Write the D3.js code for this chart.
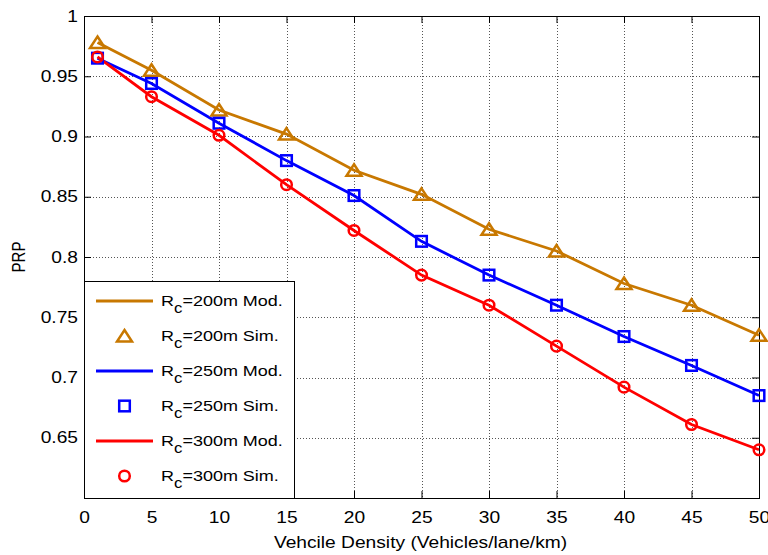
<!DOCTYPE html>
<html>
<head>
<meta charset="utf-8">
<script src="https://cdn.jsdelivr.net/npm/d3@7"></script>
<style>
  body { margin: 0; background: #fff; }
  text { font-family: "Liberation Sans", Arial, sans-serif; }
</style>
</head>
<body>
<svg width="768" height="555"></svg>
<script>
// data
const density = [1, 5, 10, 15, 20, 25, 30, 35, 40, 45, 50];
const mod200 = [0.978, 0.955, 0.922, 0.902, 0.872, 0.852, 0.823, 0.805, 0.778, 0.760, 0.735];
const sim200 = [0.978, 0.955, 0.922, 0.902, 0.872, 0.852, 0.823, 0.805, 0.778, 0.760, 0.735];
const mod250 = [0.965, 0.944, 0.911, 0.880, 0.851, 0.813, 0.785, 0.760, 0.734, 0.710, 0.685];
const sim250 = [0.965, 0.944, 0.911, 0.880, 0.851, 0.813, 0.785, 0.760, 0.734, 0.710, 0.685];
const mod300 = [0.966, 0.933, 0.901, 0.860, 0.822, 0.785, 0.760, 0.726, 0.692, 0.661, 0.640];
const sim300 = [0.966, 0.933, 0.901, 0.860, 0.822, 0.785, 0.760, 0.726, 0.692, 0.661, 0.640];
const xTicks = [0, 5, 10, 15, 20, 25, 30, 35, 40, 45, 50];
const yTicks = [0.65, 0.7, 0.75, 0.8, 0.85, 0.9, 0.95, 1];
const seriesNames = ["200m", "250m", "300m"];

const gold = "#c87800", blue = "#0000ff", red = "#ff0000";
const stretch = 1.2; // the original figure's text is a bit wide

const svg = d3.select("svg");
const pLeft = 84, pRight = 759, pTop = 16, pBottom = 498;

const x = d3.scaleLinear().domain([0, 50]).range([pLeft, pRight]);
const y = d3.scaleLinear().domain([0.6, 1]).range([pBottom, pTop]);

// grid
const grid = svg.append("g").attr("stroke", "#555").attr("stroke-width", 1)
  .attr("stroke-dasharray", "1,2");
grid.selectAll(".gx").data(xTicks.slice(1, -1)).enter().append("line")
  .attr("x1", d => Math.round(x(d)) + 0.5).attr("x2", d => Math.round(x(d)) + 0.5)
  .attr("y1", pTop).attr("y2", pBottom);
grid.selectAll(".gy").data(yTicks.slice(0, -1)).enter().append("line")
  .attr("y1", d => Math.round(y(d)) + 0.5).attr("y2", d => Math.round(y(d)) + 0.5)
  .attr("x1", pLeft).attr("x2", pRight);

// box
svg.append("rect").attr("x", pLeft + 0.5).attr("y", pTop + 0.5)
  .attr("width", pRight - pLeft).attr("height", pBottom - pTop)
  .attr("fill", "none").attr("stroke", "#000").attr("stroke-width", 1);

// ticks (inward, on all sides)
const axB = d3.axisBottom(x).tickValues(xTicks).tickSize(-7).tickPadding(14);
const axT = d3.axisTop(x).tickValues(xTicks).tickSize(-7).tickFormat("");
const axL = d3.axisLeft(y).tickValues(yTicks).tickSize(-7)
  .tickFormat(d => d3.format("")(d));
const axR = d3.axisRight(y).tickValues(yTicks).tickSize(-7).tickFormat("");

function styleAxis(g) {
  g.select(".domain").remove();
  g.selectAll("line").attr("stroke", "#000");
  g.selectAll("text").attr("font-size", 16).attr("fill", "#000")
    .attr("font-family", "Liberation Sans, Arial, sans-serif")
    .attr("transform", `scale(${stretch},1)`);
}
svg.append("g").attr("transform", `translate(0,${pBottom})`).call(axB).call(styleAxis);
svg.append("g").attr("transform", `translate(0,${pTop})`).call(axT).call(styleAxis);
svg.append("g").attr("transform", `translate(${pLeft},0)`).call(axL).call(styleAxis)
  .selectAll("text").attr("x", -6 / stretch);
svg.append("g").attr("transform", `translate(${pRight},0)`).call(axR).call(styleAxis);

// labels
svg.append("text")
  .attr("transform", `translate(${(pLeft + pRight) / 2 - 1},548) scale(${stretch},1)`)
  .attr("text-anchor", "middle").attr("font-size", 16)
  .text("Vehcile Density (Vehicles/lane/km)");
svg.append("text")
  .attr("transform", `translate(25,${(pTop + pBottom) / 2}) rotate(-90) scale(1,${stretch})`)
  .attr("text-anchor", "middle").attr("font-size", 15).text("PRP");

// series
const line = d3.line().x((d, i) => x(density[i])).y(d => y(d));
const series = [
  { mod: mod200, sim: sim200, color: gold, marker: "tri" },
  { mod: mod250, sim: sim250, color: blue, marker: "sq" },
  { mod: mod300, sim: sim300, color: red, marker: "circ" }
];

function drawMarker(g, type, cx, cy, color) {
  if (type === "tri") {
    g.append("path").attr("d", `M${cx},${cy - 6}L${cx + 7.5},${cy + 5.5}L${cx - 7.5},${cy + 5.5}Z`)
      .attr("fill", "none").attr("stroke", color).attr("stroke-width", 2.5);
  } else if (type === "sq") {
    g.append("rect").attr("x", cx - 5.3).attr("y", cy - 5.3).attr("width", 10.6).attr("height", 10.6)
      .attr("fill", "none").attr("stroke", color).attr("stroke-width", 2.5);
  } else {
    g.append("circle").attr("cx", cx).attr("cy", cy).attr("r", 5.3)
      .attr("fill", "none").attr("stroke", color).attr("stroke-width", 2.5);
  }
}

const plot = svg.append("g");
series.forEach(s => {
  plot.append("path").attr("d", line(s.mod)).attr("fill", "none")
    .attr("stroke", s.color).attr("stroke-width", 2.8);
});
series.forEach(s => {
  s.sim.forEach((v, i) => drawMarker(plot, s.marker, x(density[i]), y(v), s.color));
});

// legend
const lg = svg.append("g");
lg.append("rect").attr("x", pLeft + 0.5).attr("y", 281.5).attr("width", 210).attr("height", 217)
  .attr("fill", "#fff").attr("stroke", "#000").attr("stroke-width", 1);
const rowY = [301, 336, 371, 406, 441, 476];
series.forEach((s, k) => {
  const y1 = rowY[k * 2], y2 = rowY[k * 2 + 1];
  lg.append("line").attr("x1", 96).attr("x2", 153).attr("y1", y1).attr("y2", y1)
    .attr("stroke", s.color).attr("stroke-width", 2.8);
  drawMarker(lg, s.marker, 124.5, y2, s.color);
  [[y1, "Mod."], [y2, "Sim."]].forEach(([yy, kind]) => {
    const t = lg.append("text")
      .attr("transform", `translate(161,${yy + 5}) scale(${stretch},1)`)
      .attr("font-size", 15);
    t.append("tspan").text("R");
    t.append("tspan").attr("dy", 7).attr("font-size", 14).text("c");
    t.append("tspan").attr("dy", -7).text(`=${seriesNames[k]} ${kind}`);
  });
});
</script>
</body>
</html>
